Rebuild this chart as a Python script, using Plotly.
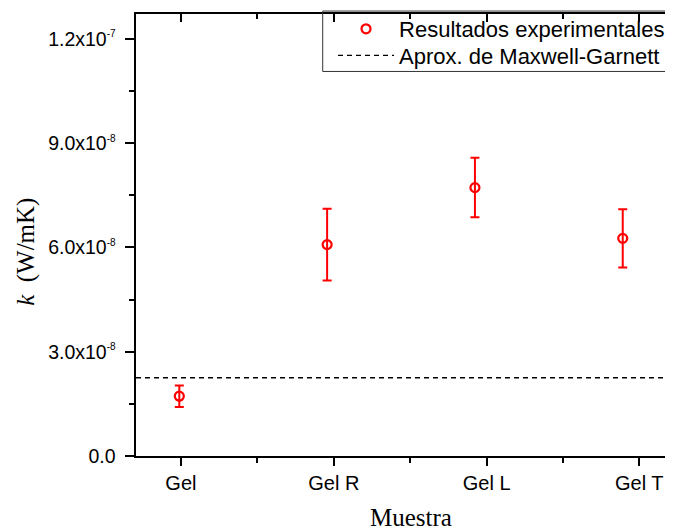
import plotly.graph_objects as go

# ---- data ----
categories = ["Gel", "Gel R", "Gel L", "Gel T"]
sample_x = [1, 2, 3, 4]
tick_x = [1.011, 2.045, 3.079, 4.112]
k_values = [1.72e-8, 6.08e-8, 7.72e-8, 6.26e-8]
k_errors = [0.31e-8, 1.03e-8, 0.855e-8, 0.84e-8]
maxwell_garnett = 2.25e-8

y_tickvals = [0, 3e-8, 6e-8, 9e-8, 1.2e-7]
y_ticktext = ["0.0",
              "3.0x10<sup><span style='font-size:10px'>-8</span></sup>",
              "6.0x10<sup><span style='font-size:10px'>-8</span></sup>",
              "9.0x10<sup><span style='font-size:10px'>-8</span></sup>",
              "1.2x10<sup><span style='font-size:10px'>-7</span></sup>"]
y_minor = [1.5e-8, 4.5e-8, 7.5e-8, 1.05e-7]

x_range = [0.707, 4.34]
y_range = [0, 1.2713e-7]

x_minor = [(a + b) / 2 for a, b in zip(tick_x[:-1], tick_x[1:])]

RED = "#ff0000"
fig = go.Figure()

fig.add_trace(go.Scatter(
    x=sample_x, y=k_values, mode="markers",
    name="Resultados experimentales", legend="legend",
    marker=dict(symbol="circle-open", size=9, color=RED, line=dict(width=2.2, color=RED)),
    error_y=dict(type="data", array=k_errors, visible=True, color=RED,
                 thickness=2, width=4.5),
))
fig.add_trace(go.Scatter(
    x=x_range, y=[maxwell_garnett, maxwell_garnett], mode="lines",
    name="Aprox. de Maxwell-Garnett", legend="legend2",
    line=dict(color="black", width=1.3, dash="5px,4px"),
))
# empty trace to show the top (mirror) axis
fig.add_trace(go.Scatter(x=[], y=[], xaxis="x2", showlegend=False))

tickfont_x = dict(family="Liberation Sans, Arial", size=20, color="black")
tickfont_y = dict(family="Liberation Sans, Arial", size=19.5, color="black")
legfont = dict(family="Liberation Sans, Arial", size=22, color="black")
titlefont = dict(family="Liberation Serif, Times New Roman", size=25, color="black")

leg_common = dict(x=0.3669, xanchor="left", yanchor="middle",
                  bgcolor="rgba(0,0,0,0)", borderwidth=0, font=legfont,
                  itemwidth=56)

fig.update_layout(
    width=665, height=521,
    margin=dict(l=128, r=0, t=2, b=73),
    paper_bgcolor="white", plot_bgcolor="white",
    showlegend=True,
    legend=dict(y=0.9664, **leg_common),
    legend2=dict(y=0.9058, **leg_common),
    xaxis=dict(
        range=x_range, tickmode="array", tickvals=tick_x, ticktext=categories,
        ticks="outside", ticklen=8, tickwidth=1.5, tickcolor="black",
        showline=True, linecolor="black", linewidth=2, showgrid=False,
        zeroline=False, tickfont=tickfont_x, automargin=False,
        minor=dict(tickvals=x_minor, ticks="outside", ticklen=5, tickwidth=1.5,
                   tickcolor="black", showgrid=False),
    ),
    xaxis2=dict(
        range=x_range, overlaying="x", side="top", tickmode="array",
        tickvals=tick_x, showticklabels=False,
        ticks="inside", ticklen=8, tickwidth=1.5, tickcolor="black",
        showline=True, linecolor="black", linewidth=2, showgrid=False,
        zeroline=False, automargin=False,
        minor=dict(tickvals=x_minor, ticks="inside", ticklen=5, tickwidth=1.5,
                   tickcolor="black", showgrid=False),
    ),
    yaxis=dict(
        range=y_range, tickmode="array", tickvals=y_tickvals, ticktext=y_ticktext,
        ticks="outside", ticklen=9.5, tickwidth=1.5, tickcolor="black",
        showline=True, linecolor="black", linewidth=2, showgrid=False,
        zeroline=False, tickfont=tickfont_y, automargin=False,
        ticklabelstandoff=5,
        minor=dict(tickvals=y_minor, ticks="outside", ticklen=5, tickwidth=1.5,
                   tickcolor="black", showgrid=False),
    ),
    shapes=[dict(type="rect", xref="paper", yref="paper",
                 x0=0.3477, x1=1.02, y0=0.870, y1=1.0067,
                 line=dict(color="#333333", width=1), fillcolor="rgba(0,0,0,0)")],
    annotations=[
        dict(text="Muestra", xref="paper", yref="paper",
             x=0.5121, y=-0.139,
             xanchor="center", yanchor="middle", showarrow=False, font=titlefont),
        dict(text="<i>k</i>\u00a0\u00a0(W/mK)", xref="paper", yref="paper",
             x=-0.2048, y=0.4619, textangle=-90,
             xanchor="center", yanchor="middle", showarrow=False, font=titlefont),
    ],
)

fig.write_html("out.html")
